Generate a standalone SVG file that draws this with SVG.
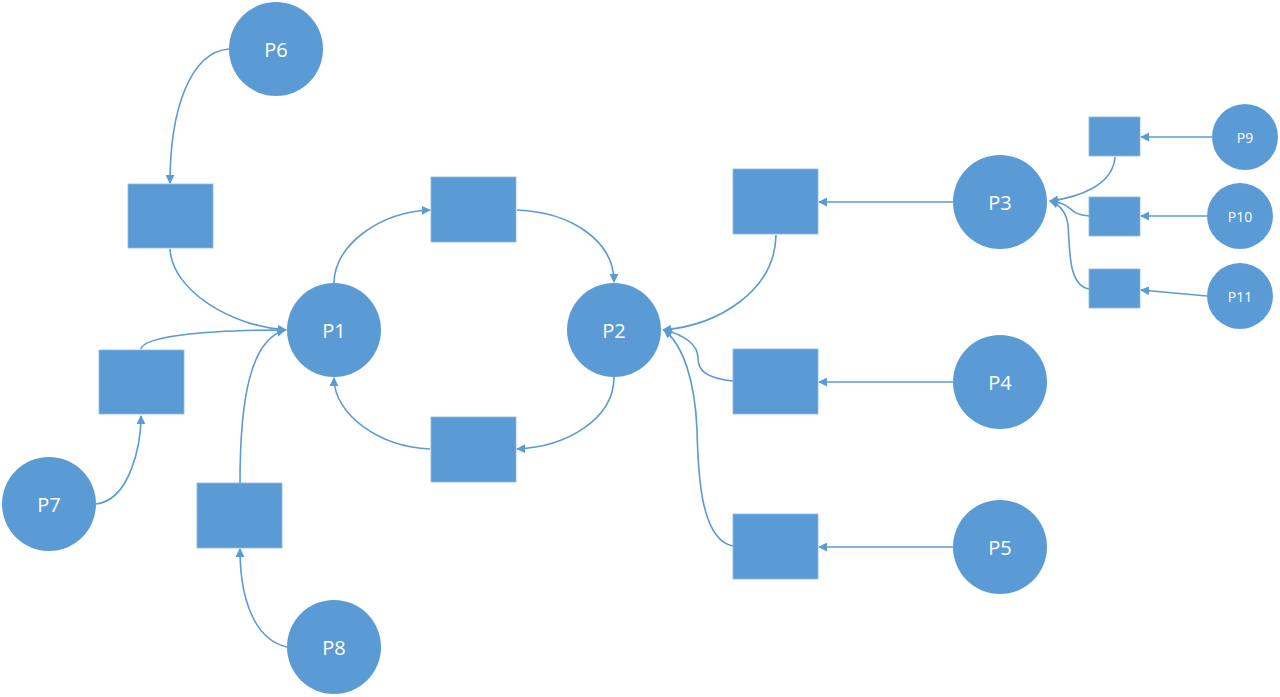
<svg xmlns="http://www.w3.org/2000/svg" width="1280" height="697" viewBox="0 0 1280 697">
<defs>
<marker id="arr" viewBox="0 0 10 10" refX="9" refY="5" markerWidth="9" markerHeight="9" markerUnits="userSpaceOnUse" orient="auto">
<path d="M0,0 L10,5 L0,10 z" fill="#5B9BD5"/>
</marker>
<style>
.n{fill:#5B9BD5}
.r{fill:#5B9BD5;stroke:#8DB8E2;stroke-width:0.8}
.t{fill:#fff;font-family:"Open Sans","Noto Sans",sans-serif;font-size:20px;text-anchor:middle;dominant-baseline:central}
.ts{fill:#fff;font-family:"Open Sans","Noto Sans",sans-serif;font-size:14px;text-anchor:middle;dominant-baseline:central}
.c{fill:none;stroke:#5B9BD5;stroke-width:1.6;marker-end:url(#arr)}
</style>
</defs>
<rect width="1280" height="697" fill="#fff"/>
<g id="connectors">
<path class="c" d="M229,49 C190,52 170,110 170,183"/>
<path class="c" d="M170,249 C172,290 230,326 286,330"/>
<path class="c" d="M141,349 C143,337 200,330 286,330"/>
<path class="c" d="M240,483 C240,400 250,340 285,330"/>
<path class="c" d="M96,504 C130,500 141,445 141,416"/>
<path class="c" d="M287,647 C255,640 240,600 240,549"/>
<path class="c" d="M334,283 C334,245 380,212 430,210"/>
<path class="c" d="M517,210 C570,212 614,240 614,282"/>
<path class="c" d="M614,377 C614,420 565,447 517,449"/>
<path class="c" d="M430,449 C380,447 334,415 334,378"/>
<path class="c" d="M776,235 C775,290 720,325 663,330"/>
<path class="c" d="M733,381 C705,378 698,370 698,358 C698,345 685,335 664,330"/>
<path class="c" d="M733,546 C700,540 698,470 697,430 C695,380 683,345 664,330"/>
<path class="c" d="M953,202 L819,202"/>
<path class="c" d="M953,382 L819,382"/>
<path class="c" d="M953,547 L819,547"/>
<path class="c" d="M1212,137 L1141,137"/>
<path class="c" d="M1207,216 L1141,216"/>
<path class="c" d="M1207,296 L1141,290"/>
<path class="c" d="M1115,157 C1113,185 1080,197 1050,201"/>
<path class="c" d="M1089,216 C1075,215 1072,210 1068,207 C1063,203 1058,202 1050,201"/>
<path class="c" d="M1089,289 C1068,285 1070,250 1068,225 C1066,210 1058,204 1050,201"/>
</g>
<g id="P1"><circle class="n" cx="334" cy="330" r="47"/><text class="t" x="334" y="330">P1</text></g>
<g id="P2"><circle class="n" cx="614" cy="330" r="47"/><text class="t" x="614" y="330">P2</text></g>
<g id="P3"><circle class="n" cx="1000" cy="202" r="47"/><text class="t" x="1000" y="202">P3</text></g>
<g id="P4"><circle class="n" cx="1000" cy="382" r="47"/><text class="t" x="1000" y="382">P4</text></g>
<g id="P5"><circle class="n" cx="1000" cy="547" r="47"/><text class="t" x="1000" y="547">P5</text></g>
<g id="P6"><circle class="n" cx="276" cy="49" r="47"/><text class="t" x="276" y="49">P6</text></g>
<g id="P7"><circle class="n" cx="49" cy="504" r="47"/><text class="t" x="49" y="504">P7</text></g>
<g id="P8"><circle class="n" cx="334" cy="647" r="47"/><text class="t" x="334" y="647">P8</text></g>
<g id="P9"><circle class="n" cx="1245" cy="137" r="33"/><text class="ts" x="1245" y="137">P9</text></g>
<g id="P10"><circle class="n" cx="1240" cy="216" r="33"/><text class="ts" x="1240" y="216">P10</text></g>
<g id="P11"><circle class="n" cx="1240" cy="296" r="33"/><text class="ts" x="1240" y="296">P11</text></g>
<g id="R1"><rect class="r" x="128" y="184" width="85" height="64"/></g>
<g id="R2"><rect class="r" x="431" y="177" width="85" height="65"/></g>
<g id="R3"><rect class="r" x="431" y="417" width="85" height="65"/></g>
<g id="R4"><rect class="r" x="99" y="350" width="85" height="64"/></g>
<g id="R5"><rect class="r" x="197" y="483" width="85" height="65"/></g>
<g id="R6"><rect class="r" x="733" y="169" width="85" height="65"/></g>
<g id="R7"><rect class="r" x="733" y="349" width="85" height="65"/></g>
<g id="R8"><rect class="r" x="733" y="514" width="85" height="65"/></g>
<g id="R9"><rect class="r" x="1089" y="117" width="51" height="39"/></g>
<g id="R10"><rect class="r" x="1089" y="197" width="51" height="39"/></g>
<g id="R11"><rect class="r" x="1089" y="269" width="51" height="39"/></g>
</svg>
